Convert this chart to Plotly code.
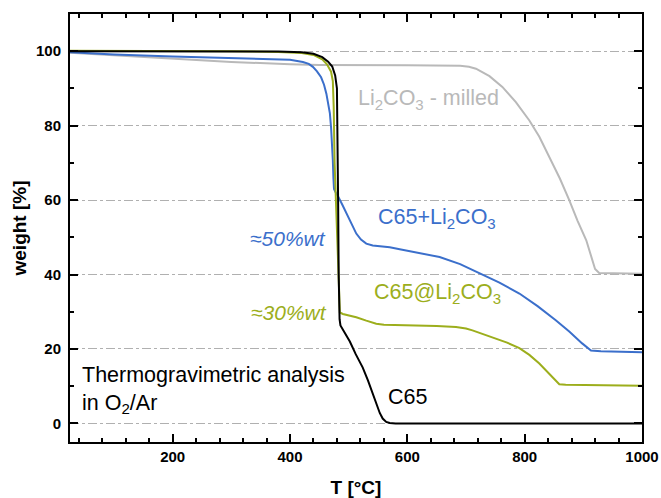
import plotly.graph_objects as go

# ---------------- data ----------------
t_c65 = [25, 100, 200, 300, 380, 420, 440, 455, 465, 472, 477, 480, 481, 482, 483, 484.5, 486,
         492, 502, 512, 524, 533, 541, 548, 553, 558, 564, 570, 580, 700, 1000]
w_c65 = [100.0, 100.0, 100.0, 100.0, 99.9, 99.7, 99.3, 98.4, 97.2, 95.9, 93.5, 90, 80, 60, 40, 28, 26.3,
         24.8, 22.0, 18.6, 15.0, 11.5, 8.0, 5.0, 2.8, 1.3, 0.4, 0.1, 0.0, 0.0, 0.0]

t_c65at = [25, 200, 300, 380, 420, 440, 455, 463, 470, 473, 474.5, 476, 478, 480, 482, 484, 485,
           490, 500, 513, 530, 547, 560, 600, 650, 683, 700, 711, 730, 751, 770, 791, 808, 825, 842,
           859, 870, 1000]
w_c65at = [100.1, 100.1, 100.0, 99.8, 99.5, 99.0, 97.8, 96.5, 94.5, 92, 85, 70, 60, 50, 40, 31, 29.8,
           29.4, 29.0, 28.5, 27.6, 26.8, 26.5, 26.4, 26.2, 25.9, 25.5, 25.0, 23.9, 22.8, 21.7, 20.2,
           18.4, 16.1, 13.3, 10.5, 10.4, 10.1]

t_c65plus = [25, 100, 200, 300, 400, 422, 432, 439, 446, 453, 458, 462, 465, 468, 470, 471.5, 473,
             474, 475, 478, 482, 489, 496, 505, 513, 521, 530, 541, 553, 570, 587, 620, 655, 690, 723,
             757, 791, 822, 853, 876, 898, 907, 913, 930, 960, 1000]
w_c65plus = [99.7, 99.1, 98.6, 98.2, 97.7, 97.1, 96.6, 95.8, 94.6, 93.0, 91.0, 88.6, 86.0, 83.3, 79.5,
             76.0, 70.7, 66.0, 63.0, 62.0, 61.0, 58.8, 56.4, 53.4, 51.0, 49.4, 48.3, 47.8, 47.6, 47.3,
             46.8, 45.8, 44.7, 42.8, 40.3, 37.8, 34.9, 31.5, 27.7, 24.7, 21.5, 20.2, 19.6, 19.4, 19.3,
             19.1]

t_li2co3 = [25, 100, 200, 300, 400, 450, 600, 690, 705, 717, 740, 762, 785, 808, 825, 842, 860, 876,
            890, 905, 914, 920, 927, 950, 1000]
w_li2co3 = [99.6, 98.9, 98.0, 97.1, 96.5, 96.3, 96.2, 96.1, 95.8, 95.3, 93.3, 90.4, 86.3, 81.4, 77.0,
            71.6, 65.8, 60.0, 54.5, 49.2, 44.5, 41.5, 40.4, 40.3, 40.2]

x_ticks = [200, 400, 600, 800, 1000]
y_ticks = [0, 20, 40, 60, 80, 100]

FONT = "Liberation Sans, Arial, sans-serif"
BLUE = "#3b6fcb"
GREEN = "#9cae1c"
GRAY = "#b9b9b9"

fig = go.Figure()
fig.add_trace(go.Scatter(x=t_li2co3, y=w_li2co3, mode="lines", line=dict(color=GRAY, width=2)))
fig.add_trace(go.Scatter(x=t_c65plus, y=w_c65plus, mode="lines", line=dict(color=BLUE, width=2)))
fig.add_trace(go.Scatter(x=t_c65at, y=w_c65at, mode="lines", line=dict(color=GREEN, width=2)))
fig.add_trace(go.Scatter(x=t_c65, y=w_c65, mode="lines", line=dict(color="black", width=2)))

def ann(x, y, text, color, xanchor="left", size=21.5):
    fig.add_annotation(x=x, y=y, text=text, showarrow=False, xanchor=xanchor, yanchor="middle",
                       align="left", font=dict(family=FONT, size=size, color=color))

ann(513, 87, "Li<sub>2</sub>CO<sub>3</sub> - milled", GRAY)
ann(547, 55, "C65+Li<sub>2</sub>CO<sub>3</sub>", BLUE)
ann(465, 49.7, "<i>≈50%wt</i>", BLUE, xanchor="right", size=21)
ann(539, 35, "C65@Li<sub>2</sub>CO<sub>3</sub>", GREEN)
ann(467, 29.8, "<i>≈30%wt</i>", GREEN, xanchor="right", size=21)
ann(42, 8.9, "Thermogravimetric analysis<br>in O<sub>2</sub>/Ar", "black")
ann(564, 7, "C65", "black")

axis_common = dict(
    showline=True, linecolor="black", linewidth=2, mirror="ticks",
    ticks="inside", ticklen=8, tickwidth=1.5, tickcolor="black",
    tickfont=dict(family=FONT, size=15, color="black", weight="bold"),
    zeroline=False, ticklabeloverflow="allow", automargin=False,
)

fig.update_xaxes(
    range=[25, 1000], tickvals=x_ticks, showgrid=False,
    minor=dict(dtick=40, tick0=0, ticks="inside", ticklen=4, tickwidth=1.5, tickcolor="black", showgrid=False),
    title=dict(text="<b>T [°C]</b>", font=dict(family=FONT, size=19, color="black"), standoff=18),
    **axis_common,
)
fig.update_yaxes(
    range=[-5, 110], tickvals=y_ticks, showgrid=True, gridcolor="#b0b0b0", gridwidth=1, griddash="dashdot",
    minor=dict(dtick=10, tick0=0, ticks="inside", ticklen=4, tickwidth=1.5, tickcolor="black", showgrid=False),
    title=dict(text="<b>weight [%]</b>", font=dict(family=FONT, size=19, color="black"), standoff=4),
    ticklabelstandoff=4,
    **axis_common,
)

fig.update_layout(
    width=661, height=498,
    margin=dict(l=70, r=19, t=14, b=56),
    paper_bgcolor="white", plot_bgcolor="white",
    showlegend=False,
    font=dict(family=FONT),
)

# remove the default 8 px page margin so the figure fills the 661x498 window exactly
fig.write_html("out.html",
               config={"displayModeBar": False, "responsive": False},
               post_script="document.body.style.margin='0';")
